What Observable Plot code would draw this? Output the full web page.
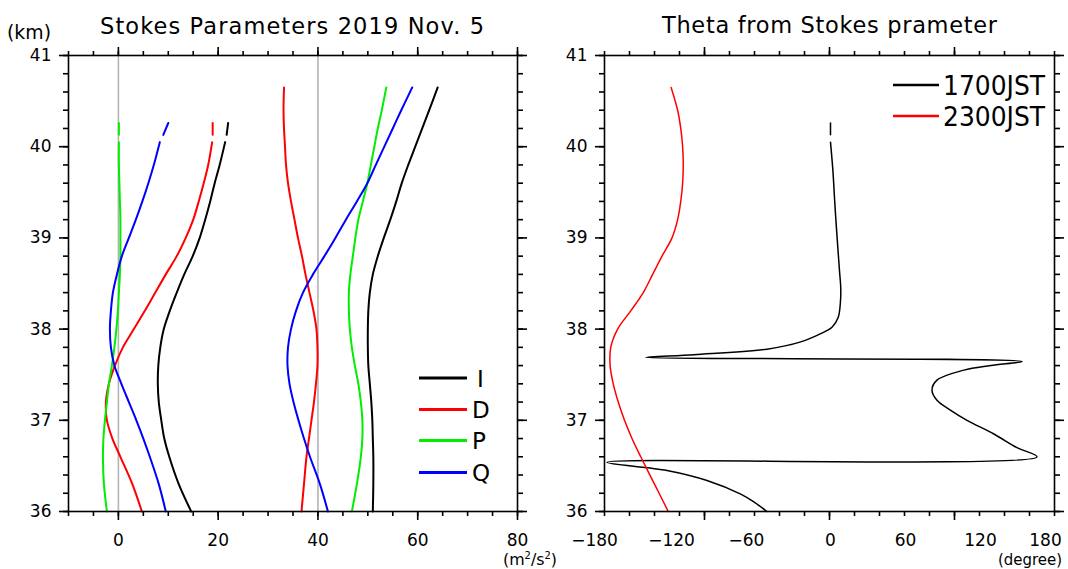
<!DOCTYPE html>
<html>
<head>
<meta charset="utf-8">
<script src="https://cdn.jsdelivr.net/npm/d3@7"></script>
<script src="https://cdn.jsdelivr.net/npm/@observablehq/plot@0.6"></script>
<style>
  html, body { margin: 0; padding: 0; background: #fff; }
  body { width: 1068px; height: 569px; position: relative; overflow: hidden; font-family: "DejaVu Sans", sans-serif; }
  .panel { position: absolute; top: 0; }
</style>
</head>
<body>
<div id="left" class="panel" style="left:0px"></div>
<div id="right" class="panel" style="left:530px"></div>
<script>
// ---------------- data ----------------
// heights (km) for the 1700JST profile (null row = missing level)
const km17 = [36.0, 36.3, 36.6, 36.8, 37.0, 37.2, 37.4, 37.6, 37.8, 38.0, 38.2, 38.4, 38.6, 38.8, 39.0, 39.2, 39.4, 39.6, 39.8, 40.05, 40.09, 40.13, 40.26];
const I17 = [14.6, 12.1, 10.2, 9.2, 8.6, 8.1, 7.9, 8.0, 8.4, 9.1, 10.3, 11.7, 13.2, 14.9, 16.3, 17.4, 18.4, 19.3, 20.3, 21.4, null, 21.7, 22.0];
const D17 = [4.7, 2.8, 0.4, -1.2, -2.3, -2.5, -1.9, -0.7, 0.9, 3.1, 5.3, 7.4, 9.5, 11.7, 13.5, 15.0, 16.1, 17.1, 18.0, 18.8, null, 18.9, 18.9];
const P17 = [-2.3, -2.9, -3.1, -3.0, -2.7, -2.3, -1.9, -1.3, -0.8, -0.4, -0.1, 0.1, 0.3, 0.4, 0.4, 0.4, 0.3, 0.2, 0.1, 0.1, null, 0.1, 0.1];
const Q17 = [9.5, 8.1, 6.3, 5.0, 3.6, 2.1, 0.6, -0.8, -1.5, -1.7, -1.5, -1.1, -0.3, 0.7, 2.1, 3.5, 4.8, 6.0, 7.1, 8.3, null, 9.0, 10.0];

// heights (km) for the 2300JST profile (plotted against the 40 reference line)
const km23 = [36.0, 36.3, 36.6, 36.8, 37.0, 37.2, 37.4, 37.6, 37.8, 38.0, 38.2, 38.4, 38.6, 38.8, 39.0, 39.2, 39.4, 39.6, 39.8, 40.0, 40.2, 40.4, 40.65];
const I23 = [51.0, 51.1, 51.1, 51.0, 50.9, 50.7, 50.4, 50.1, 50.0, 50.0, 50.1, 50.4, 51.0, 52.0, 53.2, 54.5, 55.7, 56.8, 58.1, 59.5, 60.9, 62.3, 64.0];
const D23 = [36.7, 37.2, 37.7, 38.2, 38.7, 39.2, 39.6, 39.9, 39.9, 39.7, 39.1, 38.3, 37.5, 36.8, 36.0, 35.3, 34.6, 34.0, 33.6, 33.4, 33.2, 33.1, 33.2];
const P23 = [46.8, 47.8, 48.6, 48.9, 48.9, 48.6, 48.1, 47.4, 46.8, 46.4, 46.2, 46.2, 46.5, 47.0, 47.5, 48.1, 49.0, 49.9, 50.6, 51.3, 52.0, 52.8, 53.7];
const Q23 = [42.0, 40.4, 38.4, 37.2, 36.1, 35.1, 34.3, 33.9, 34.0, 34.6, 35.6, 37.0, 39.0, 41.3, 43.5, 45.6, 47.8, 49.9, 51.6, 53.3, 55.0, 56.7, 58.9];

// theta (degree)
const thetaKm17 = [36.0, 36.1, 36.19, 36.34, 36.45, 36.54, 36.6, 36.7, 36.85, 37.0, 37.11, 37.22, 37.33, 37.44, 37.55, 37.6, 37.645, 37.69, 37.72, 37.78, 37.86, 37.95, 38.02, 38.13, 38.31, 38.45, 38.64, 39.0, 39.37, 39.74, 40.05, 40.09, 40.13, 40.26];
const theta17 = [-50, -60, -71, -98, -130, -178, 166, 150, 131.5, 110, 97, 86, 82, 86, 107.5, 129, 154, -147, -108.5, -50, -23, -7, 2, 7, 8.8, 9, 8, 6.1, 4.3, 2.7, 0.8, null, 0.8, 0.8];
const theta23 = [-129, -140, -151, -158, -164, -169, -173, -175.5, -175, -169.5, -159, -149, -141.5, -134, -126, -121.5, -119, -117.5, -117, -117.5, -119, -121.5, -126.7];

// axes / labels
const yMajor = [36, 37, 38, 39, 40, 41];
const yMinor = d3.range(36, 41.001, 0.2);
const stokesTicks = [0, 20, 40, 60, 80];
const stokesMinor = d3.range(-10, 80.001, 5);
const refLines = [0, 40];
const thetaLabels = [-180, -120, -60, 0, 60, 120, 180];
const thetaMajor = [-100, 0, 100];
const thetaMinor = d3.range(-180, 180.001, 20);
const stokesNames = ["I", "D", "P", "Q"];
const stokesColors = ["#000000", "#ff0000", "#00ee00", "#0000ff"];
const timeNames = ["1700JST", "2300JST"];
const timeColors = ["#000000", "#ff0000"];

// ---------------- helpers ----------------
function rows(km, vals) {
  return km.map((k, i) => ({km: k, v: vals[i] == null ? NaN : vals[i]}));
}
const SW = 1.6;
function frameAxes(xMajor, xMinor) {
  return [
    Plot.frame({strokeWidth: SW}),
    Plot.axisY({anchor: "left", ticks: yMajor, tickSize: 9, tickPadding: 8, label: null, strokeWidth: SW, fontSize: 17, tickFormat: d => String(d)}),
    Plot.axisY({anchor: "left", ticks: yMinor, tickSize: 5, fill: "none", label: null, strokeWidth: SW}),
    Plot.axisY({anchor: "right", ticks: yMajor, tickSize: 9, fill: "none", label: null, strokeWidth: SW}),
    Plot.axisY({anchor: "right", ticks: yMinor, tickSize: 5, fill: "none", label: null, strokeWidth: SW}),
    Plot.axisX({anchor: "bottom", ticks: xMajor, tickSize: 9, fill: "none", label: null, strokeWidth: SW}),
    Plot.axisX({anchor: "bottom", ticks: xMinor, tickSize: 5, fill: "none", label: null, strokeWidth: SW}),
    Plot.axisX({anchor: "top", ticks: xMajor, tickSize: 9, fill: "none", label: null, strokeWidth: SW}),
    Plot.axisX({anchor: "top", ticks: xMinor, tickSize: 5, fill: "none", label: null, strokeWidth: SW})
  ];
}
function xLabelAxis(ticks, dx = 0) {
  return Plot.axisX({anchor: "bottom", ticks, tickSize: 0, tickPadding: 22, label: null, fontSize: 17, dx});
}
const plotStyle = {fontFamily: "DejaVu Sans, sans-serif", fontSize: "17px", color: "black", background: "transparent", overflow: "visible"};
const CURVE = "catmull-rom";

// ---------------- left: Stokes parameters ----------------
const set17 = [I17, D17, P17, Q17];
const set23 = [I23, D23, P23, Q23];
const leftMarks = [Plot.ruleX(refLines, {stroke: "#b4b4b4", strokeWidth: 1.6})];
set17.forEach((vals, i) => leftMarks.push(Plot.line(rows(km17, vals), {x: "v", y: "km", stroke: stokesColors[i], strokeWidth: 2, curve: CURVE})));
set23.forEach((vals, i) => leftMarks.push(Plot.line(rows(km23, vals), {x: "v", y: "km", stroke: stokesColors[i], strokeWidth: 2, curve: CURVE})));
leftMarks.push(...frameAxes(stokesTicks, stokesMinor), xLabelAxis(stokesTicks));

const leftPlot = Plot.plot({
  width: 530, height: 569,
  marginLeft: 68, marginRight: 13, marginTop: 55, marginBottom: 58,
  x: {domain: [-10, 80]},
  y: {domain: [36, 41]},
  style: plotStyle,
  marks: leftMarks
});
document.getElementById("left").appendChild(leftPlot);

// ---------------- right: theta ----------------
const rightMarks = [
  Plot.line(rows(thetaKm17, theta17), {x: "v", y: "km", stroke: timeColors[0], strokeWidth: 1.5, curve: CURVE}),
  Plot.line(rows(km23, theta23), {x: "v", y: "km", stroke: timeColors[1], strokeWidth: 1.5, curve: CURVE}),
  ...frameAxes(thetaMajor, thetaMinor),
  xLabelAxis(thetaLabels.filter(d => d < 0 && d > -180), -8),
  xLabelAxis(thetaLabels.filter(d => d === -180), -10),
  xLabelAxis(thetaLabels.filter(d => d >= 0 && d < 180), 1),
  xLabelAxis(thetaLabels.filter(d => d === 180), -9)
];
const rightPlot = Plot.plot({
  width: 538, height: 569,
  marginLeft: 74, marginRight: 14, marginTop: 55, marginBottom: 58,
  x: {domain: [-180, 180]},
  y: {domain: [36, 41]},
  style: plotStyle,
  marks: rightMarks
});
document.getElementById("right").appendChild(rightPlot);

// ---------------- titles, units and legends (overlay) ----------------
const ov = d3.select("body").append("svg")
  .attr("width", 1068).attr("height", 569)
  .style("position", "absolute").style("left", "0px").style("top", "0px")
  .style("pointer-events", "none")
  .attr("font-family", "DejaVu Sans, sans-serif");

function txt(x, y, s, size, opts = {}) {
  const t = ov.append("text").attr("x", x).attr("y", y).attr("font-size", size).attr("fill", "black").text(s);
  if (opts.anchor) t.attr("text-anchor", opts.anchor);
  if (opts.len) t.attr("textLength", opts.len).attr("lengthAdjust", opts.adjust || "spacing");
  if (opts.family) t.attr("font-family", opts.family);
  return t;
}
txt(7, 39, "(km)", 19, {len: 44, adjust: "spacingAndGlyphs"});
txt(100, 34, "Stokes Parameters 2019 Nov. 5", 22.5, {len: 384});
txt(662, 33, "Theta from Stokes prameter", 22.5, {len: 335});

// unit labels
const u = ov.append("text").attr("x", 503).attr("y", 564.5).attr("font-size", 16).attr("fill", "black")
  .attr("textLength", 54).attr("lengthAdjust", "spacingAndGlyphs");
u.append("tspan").text("(m");
u.append("tspan").attr("dy", -5.5).attr("font-size", 10).text("2");
u.append("tspan").attr("dy", 5.5).text("/s");
u.append("tspan").attr("dy", -5.5).attr("font-size", 10).text("2");
u.append("tspan").attr("dy", 5.5).text(")");
txt(1062, 564.5, "(degree)", 16, {anchor: "end", len: 64, adjust: "spacingAndGlyphs"});

// legend: Stokes parameters
const legY = [378, 409.5, 440.5, 472.5];
stokesNames.forEach((n, i) => {
  ov.append("line").attr("x1", 419).attr("x2", 467).attr("y1", legY[i]).attr("y2", legY[i])
    .attr("stroke", stokesColors[i]).attr("stroke-width", 3);
  txt(n === "I" ? 477 : 472, legY[i] + 8.5, n, 23);
});

// legend: times
const legY2 = [85, 116];
timeNames.forEach((n, i) => {
  ov.append("line").attr("x1", 893).attr("x2", 939).attr("y1", legY2[i]).attr("y2", legY2[i])
    .attr("stroke", timeColors[i]).attr("stroke-width", 2.5);
  txt(943, legY2[i] + 10, n, 26, {len: 102, adjust: "spacingAndGlyphs", family: "Liberation Sans Narrow, DejaVu Sans Condensed, DejaVu Sans, sans-serif"});
});
</script>
</body>
</html>
